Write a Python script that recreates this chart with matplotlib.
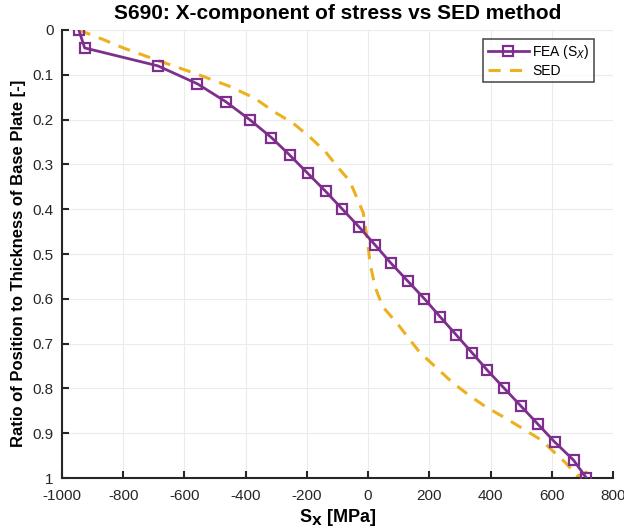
import numpy as np
import matplotlib
matplotlib.use("Agg")
import matplotlib.pyplot as plt

plt.rcParams['font.family'] = ['Liberation Sans', 'DejaVu Sans']
plt.rcParams['axes.unicode_minus'] = False

# FEA result (S_X) through the plate thickness
fea_pos = [0.00, 0.04, 0.08, 0.12, 0.16, 0.20, 0.24, 0.28, 0.32, 0.36, 0.40,
           0.44, 0.48, 0.52, 0.56, 0.60, 0.64, 0.68, 0.72, 0.76, 0.80, 0.84,
           0.88, 0.92, 0.96, 1.00]
fea_sx = [-945, -926, -687, -558, -465, -387, -316, -255, -197, -139, -84,
          -29, 23, 74, 129, 184, 235, 287, 339, 390, 445, 500,
          555, 610, 671, 713]

# SED method curve
sed_sx = [-945, -870, -800, -687, -565, -455, -371, -306, -245, -187,
          -139, -97, -60, -16, 0, 6, 23, 48, 94, 145, 168,
          225, 274, 329, 384, 448, 513, 565, 645, 684, 720]
sed_pos = [0.000, 0.020, 0.040, 0.068, 0.097, 0.125, 0.152, 0.183, 0.208, 0.241,
           0.272, 0.308, 0.337, 0.408, 0.480, 0.520, 0.574, 0.618, 0.654, 0.699, 0.719,
           0.755, 0.786, 0.815, 0.841, 0.866, 0.893, 0.915, 0.966, 0.996, 0.985]

purple = '#7E2F8E'
yellow = '#EDB120'

fig = plt.figure(figsize=(6.24, 5.31), dpi=100)
ax = fig.add_axes([62/624, 1-478/531, 551/624, 448/531])

ax.plot(fea_sx, fea_pos, color=purple, lw=2, marker='s', ms=6.5, mfc='none',
        mew=1.6, label='FEA (S$_X$)', zorder=3)
ax.plot(sed_sx, sed_pos, color=yellow, lw=2.2, ls=(0, (4, 3)), label='SED', zorder=2)

ax.set_xlim(-1000, 800)
ax.set_ylim(1, 0)
ax.set_xticks(np.arange(-1000, 801, 200))
ax.set_yticks(np.arange(0, 1.01, 0.1))
ax.set_yticklabels(['0', '0.1', '0.2', '0.3', '0.4', '0.5', '0.6', '0.7', '0.8', '0.9', '1'])
ax.tick_params(direction='in', labelsize=11, width=1.5, length=5, color='#262626',
               labelcolor='#262626')
ax.tick_params(axis='x', pad=8)
ax.tick_params(axis='y', pad=6)
ax.grid(True, color='#ebebeb', lw=0.8)
ax.set_axisbelow(True)
for s in ['top', 'right']:
    ax.spines[s].set_visible(False)
for s in ['left', 'bottom']:
    ax.spines[s].set_linewidth(1.5)
    ax.spines[s].set_color('#262626')

ax.set_title('S690: X-component of stress vs SED method', fontsize=15,
             fontweight='bold', pad=8)
ax.set_xlabel('S$_\\mathbf{X}$ [MPa]', fontsize=13, fontweight='bold', labelpad=3)
ax.set_ylabel('Ratio of Position to Thickness of Base Plate [-]', fontsize=12,
              fontweight='bold')
ax.yaxis.set_label_coords(-0.065, 0.48)

leg = ax.legend(loc='upper right', fontsize=10, frameon=True, fancybox=False,
                edgecolor='#262626', handlelength=3.0, borderpad=0.3,
                labelspacing=0.2, handletextpad=0.2, bbox_to_anchor=(0.978, 0.995))
leg.get_frame().set_linewidth(1.2)

fig.savefig('out.png', dpi=100)
